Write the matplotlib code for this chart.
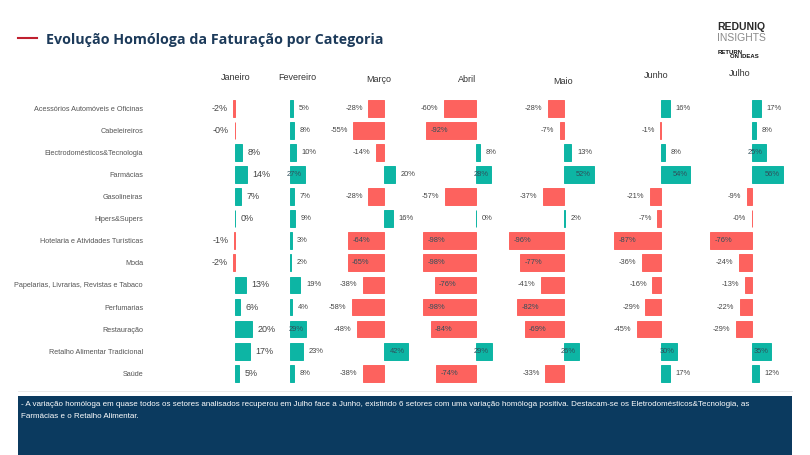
import matplotlib.pyplot as plt
from matplotlib.patches import Rectangle

plt.rcParams['font.family'] = ['Liberation Sans', 'DejaVu Sans']

categorias = ["Acessórios Automóveis e Oficinas", "Cabeleireiros",
              "Electrodomésticos&Tecnologia", "Farmácias", "Gasolineiras",
              "Hipers&Supers", "Hotelaria e Atividades Turísticas", "Moda",
              "Papelarias, Livrarias, Revistas e Tabaco", "Perfumarias",
              "Restauração", "Retalho Alimentar Tradicional", "Saúde"]
meses = ["Janeiro", "Fevereiro", "Março", "Abril", "Maio", "Junho", "Julho"]

janeiro = [-2, -0.3, 8, 14, 7, 0.3, -1, -2, 13, 6, 20, 17, 5]
fevereiro = [5, 8, 10, 27, 7, 9, 3, 2, 19, 4, 29, 23, 8]
marco = [-28, -55, -14, 20, -28, 16, -64, -65, -38, -58, -48, 42, -38]
abril = [-60, -92, 8, 28, -57, 0.3, -98, -98, -76, -98, -84, 29, -74]
maio = [-28, -7, 13, 52, -37, 2, -96, -77, -41, -82, -69, 26, -33]
junho = [16, -1, 8, 54, -21, -7, -87, -36, -16, -29, -45, 30, 17]
julho = [17, 8, 25, 56, -9, -0.3, -76, -24, -13, -22, -29, 35, 12]
valores = [janeiro, fevereiro, marco, abril, maio, junho, julho]

W, H = 810, 455
TEAL = '#0DB5A4'
RED = '#FD625E'
NAVY = '#0b3a5f'

fig = plt.figure(figsize=(W / 100, H / 100), dpi=100)

# layout of each month column (pixels)
zero_px = [235, 290, 384, 476, 564, 661, 752]
px_pct = [0.86, 0.55, 0.56, 0.54, 0.57, 0.54, 0.55]
ax_left = [200, 270, 320, 415, 500, 600, 700]
ax_right = [280, 330, 420, 510, 610, 705, 795]
mes_x = [236, 297, 379, 467, 563, 656, 740]
mes_y = [77, 77, 79, 79, 81, 75, 73]
row_top, row_bot = 97.3, 384.3

for i, vals in enumerate(valores):
    L, R, x0, s = ax_left[i], ax_right[i], zero_px[i], px_pct[i]
    ax = fig.add_axes([L / W, 1 - row_bot / H, (R - L) / W, (row_bot - row_top) / H])
    ax.patch.set_alpha(0)
    ax.set_frame_on(False)
    ax.set_xlim((L - x0) / s, (R - x0) / s)
    ax.set_ylim(len(categorias) - 0.5, -0.5)
    cores = [TEAL if v >= 0 else RED for v in vals]
    ax.barh(range(len(vals)), vals, height=0.76, color=cores,
            edgecolor=cores, linewidth=0.7)
    ax.set_xticks([])
    if i == 0:
        ax.set_yticks(range(len(categorias)))
        ax.set_yticklabels(categorias, fontsize=5.2, color='#555555')
        ax.tick_params(axis='y', length=0, pad=41)
    else:
        ax.set_yticks([])
    fs = 6.5 if i == 0 else 5.4
    for j, v in enumerate(vals):
        txt = f"{v:.0f}%"
        dentro = v >= 25 or v < -60
        if dentro:
            off, ha = ((-2, 'right') if v > 0 else (3, 'left'))
            col = '#2f4f5a'
        else:
            off, ha = ((4, 'left') if v >= 0 else (-4, 'right'))
            col = '#444444'
        ax.annotate(txt, (v, j), xytext=(off, 0), textcoords='offset points',
                    ha=ha, va='center', fontsize=fs, color=col)
    fig.text(mes_x[i] / W, 1 - mes_y[i] / H, meses[i], ha='center',
             va='center', fontsize=6.5, color='#333333')

# title
fig.add_artist(plt.Line2D([18 / W, 37 / W], [1 - 38 / H, 1 - 38 / H],
                          color='#c0202f', lw=1.5))
fig.text(46 / W, 1 - 40 / H, "Evolução Homóloga da Faturação por Categoria",
         fontsize=10.3, fontweight='bold', color='#1c3a5a', va='center',
         family=['Open Sans', 'DejaVu Sans'])

# logo
fig.text(741 / W, 1 - 27 / H, "REDUNIQ", fontsize=7.5, fontweight='bold',
         color='#2a2a2a', ha='center', va='center')
fig.text(741 / W, 1 - 38 / H, "INSIGHTS", fontsize=7.5, color='#8a8a8a',
         ha='center', va='center')
fig.text(718 / W, 1 - 52 / H, "RETURN", fontsize=4.3, fontweight='bold',
         color='#111111', va='center')
fig.text(730 / W, 1 - 57 / H, "ON IDEAS", fontsize=4.3, fontweight='bold',
         color='#111111', va='center')

# comment box
fig.add_artist(plt.Line2D([18 / W, 792 / W], [1 - 391 / H, 1 - 391 / H],
                          color='#e6e6e6', lw=0.6))
fig.add_artist(Rectangle((18 / W, 0), (792 - 18) / W, (455 - 396) / H,
                         transform=fig.transFigure, color=NAVY, lw=0))
fig.text(21 / W, 1 - 405 / H,
         "- A variação homóloga em quase todos os setores analisados recuperou em Julho face a Junho, "
         "existindo 6 setores com uma variação homóloga positiva. Destacam-se os "
         "Eletrodomésticos&Tecnologia, as", fontsize=5.75, color='white', va='center')
fig.text(21 / W, 1 - 417 / H, "Farmácias e o Retalho Alimentar.", fontsize=5.75,
         color='white', va='center')

fig.savefig("out.png", dpi=100)
